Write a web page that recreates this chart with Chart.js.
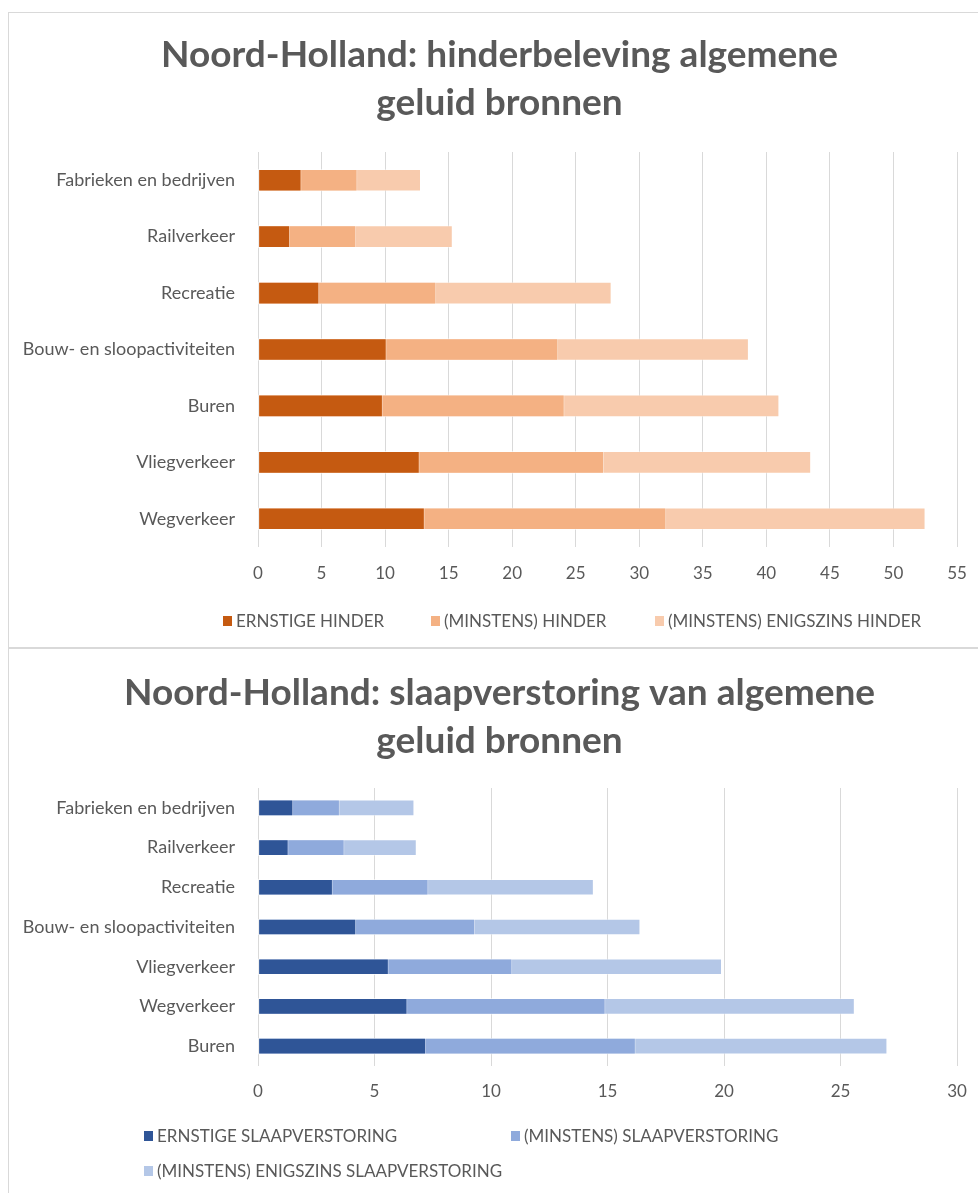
<!DOCTYPE html>
<html>
<head>
<meta charset="utf-8">
<title>Noord-Holland: hinder en slaapverstoring</title>
<script src="https://cdn.jsdelivr.net/npm/chart.js@4.4.1/dist/chart.umd.min.js"></script>
<style>
    html, body { margin: 0; padding: 0; background: #fff; overflow: hidden; }
    body { width: 978px; height: 1193px; position: relative; font-family: Lato, sans-serif; }
    .panel { position: absolute; left: 8px; width: 1000px; border: 1px solid #d9d9d9; background: #fff; }
    #panelHinder { top: 12px; height: 634px; }
    #panelSlaap { top: 648px; height: 600px; }
    .panel canvas { position: absolute; left: 0; top: 0; }
    .legend { position: absolute; display: grid; color: #595959; font: 17px Lato, sans-serif; }
    .legend-item { display: flex; align-items: center; white-space: nowrap; height: 35px; }
    .legend-box { width: 9px; height: 10px; margin-right: 4px; flex: none; }
    #legendHinder { left: 214px; top: 590px; grid-template-columns: 208px 224px auto; }
    #legendSlaap { left: 135px; top: 469px; grid-template-columns: 367px 367px; }
</style>
</head>
<body>
<div class="panel" id="panelHinder">
    <canvas id="chartHinder" width="981" height="634"></canvas>
    <div class="legend" id="legendHinder"></div>
</div>
<div class="panel" id="panelSlaap">
    <canvas id="chartSlaap" width="981" height="560"></canvas>
    <div class="legend" id="legendSlaap"></div>
</div>

<script>
// Chart 1: hinderbeleving (percentages, cumulative "minstens" values)
const hinderCategories = ['Fabrieken en bedrijven', 'Railverkeer', 'Recreatie', 'Bouw- en sloopactiviteiten', 'Buren', 'Vliegverkeer', 'Wegverkeer'];
const hinderErnstig = [3.4, 2.5, 4.8, 10.1, 9.8, 12.7, 13.1];
const hinderMinstens = [7.8, 7.7, 14.0, 23.6, 24.1, 27.2, 32.1];
const hinderEnigszins = [12.8, 15.3, 27.8, 38.6, 41.0, 43.5, 52.5];
const hinderSeriesNames = ['ERNSTIGE HINDER', '(MINSTENS) HINDER', '(MINSTENS) ENIGSZINS HINDER'];
const hinderTicks = [0, 5, 10, 15, 20, 25, 30, 35, 40, 45, 50, 55];

// Chart 2: slaapverstoring
const slaapCategories = ['Fabrieken en bedrijven', 'Railverkeer', 'Recreatie', 'Bouw- en sloopactiviteiten', 'Vliegverkeer', 'Wegverkeer', 'Buren'];
const slaapErnstig = [1.5, 1.3, 3.2, 4.2, 5.6, 6.4, 7.2];
const slaapMinstens = [3.5, 3.7, 7.3, 9.3, 10.9, 14.9, 16.2];
const slaapEnigszins = [6.7, 6.8, 14.4, 16.4, 19.9, 25.6, 27.0];
const slaapSeriesNames = ['ERNSTIGE SLAAPVERSTORING', '(MINSTENS) SLAAPVERSTORING', '(MINSTENS) ENIGSZINS SLAAPVERSTORING'];
const slaapTicks = [0, 5, 10, 15, 20, 25, 30];

const orangeColors = ['#C55A11', '#F4B183', '#F8CBAD'];
const blueColors = ['#2F5597', '#8FAADC', '#B4C7E7'];
const textColor = '#595959';

Chart.defaults.font.family = 'Lato, sans-serif';
Chart.defaults.color = textColor;

function buildLegend(elementId, names, colors) {
    const legend = document.getElementById(elementId);
    names.forEach((name, i) => {
        const item = document.createElement('div');
        item.className = 'legend-item';
        item.innerHTML = `<span class="legend-box" style="background:${colors[i]}"></span>${name}`;
        legend.appendChild(item);
    });
}

function createChart(canvasId, cfg) {
    const ctx = document.getElementById(canvasId).getContext('2d');

    // bars overlap (grouped: false); the first dataset is drawn on top
    const datasets = cfg.series.map((values, i) => ({
        label: cfg.names[i],
        data: values,
        backgroundColor: cfg.colors[i],
        borderColor: 'rgba(255, 255, 255, 0.35)',
        borderWidth: 1,
        borderSkipped: false,
        grouped: false,
        barThickness: cfg.barThickness
    }));

    return new Chart(ctx, {
        type: 'bar',
        data: {
            labels: cfg.categories,
            datasets: datasets
        },
        options: {
            indexAxis: 'y',
            responsive: false,
            animation: false,
            devicePixelRatio: 1,
            layout: {
                padding: { left: 0, right: 0, top: 0, bottom: cfg.bottomPad }
            },
            plugins: {
                legend: { display: false },
                tooltip: { enabled: false },
                title: {
                    display: true,
                    text: cfg.title,
                    color: textColor,
                    font: { size: 37, weight: 'bold', lineHeight: '48px' },
                    padding: { top: cfg.titleTop, bottom: cfg.titleBottom }
                }
            },
            scales: {
                x: {
                    min: cfg.ticks[0],
                    max: cfg.ticks[cfg.ticks.length - 1],
                    afterBuildTicks: function(scale) {
                        scale.ticks = cfg.ticks.map(v => ({ value: v }));
                    },
                    afterFit: function(scale) {
                        // right gap lives on the axis so the title stays centred on the panel
                        scale.height = 40;
                        scale.paddingLeft = 0;
                        scale.paddingRight = 33;
                    },
                    grid: { color: '#d9d9d9', lineWidth: 1, drawTicks: false },
                    border: { display: false },
                    ticks: { color: textColor, font: { size: 17 }, padding: cfg.tickPad }
                },
                y: {
                    afterFit: function(scale) {
                        scale.width = 249;
                    },
                    grid: { display: false, drawTicks: false },
                    border: { display: false },
                    ticks: { color: textColor, font: { size: 18 }, padding: 23 }
                }
            }
        }
    });
}

createChart('chartHinder', {
    categories: hinderCategories,
    series: [hinderErnstig, hinderMinstens, hinderEnigszins],
    names: hinderSeriesNames,
    colors: orangeColors,
    ticks: hinderTicks,
    title: ['Noord-Holland: hinderbeleving algemene', 'geluid bronnen'],
    titleTop: 18,
    titleBottom: 25,
    barThickness: 22,
    bottomPad: 60,
    tickPad: 16
});

createChart('chartSlaap', {
    categories: slaapCategories,
    series: [slaapErnstig, slaapMinstens, slaapEnigszins],
    names: slaapSeriesNames,
    colors: blueColors,
    ticks: slaapTicks,
    title: ['Noord-Holland: slaapverstoring van algemene', 'geluid bronnen'],
    titleTop: 20,
    titleBottom: 23,
    barThickness: 16,
    bottomPad: 103,
    tickPad: 15
});

buildLegend('legendHinder', hinderSeriesNames, orangeColors);
buildLegend('legendSlaap', slaapSeriesNames, blueColors);
</script>
</body>
</html>
